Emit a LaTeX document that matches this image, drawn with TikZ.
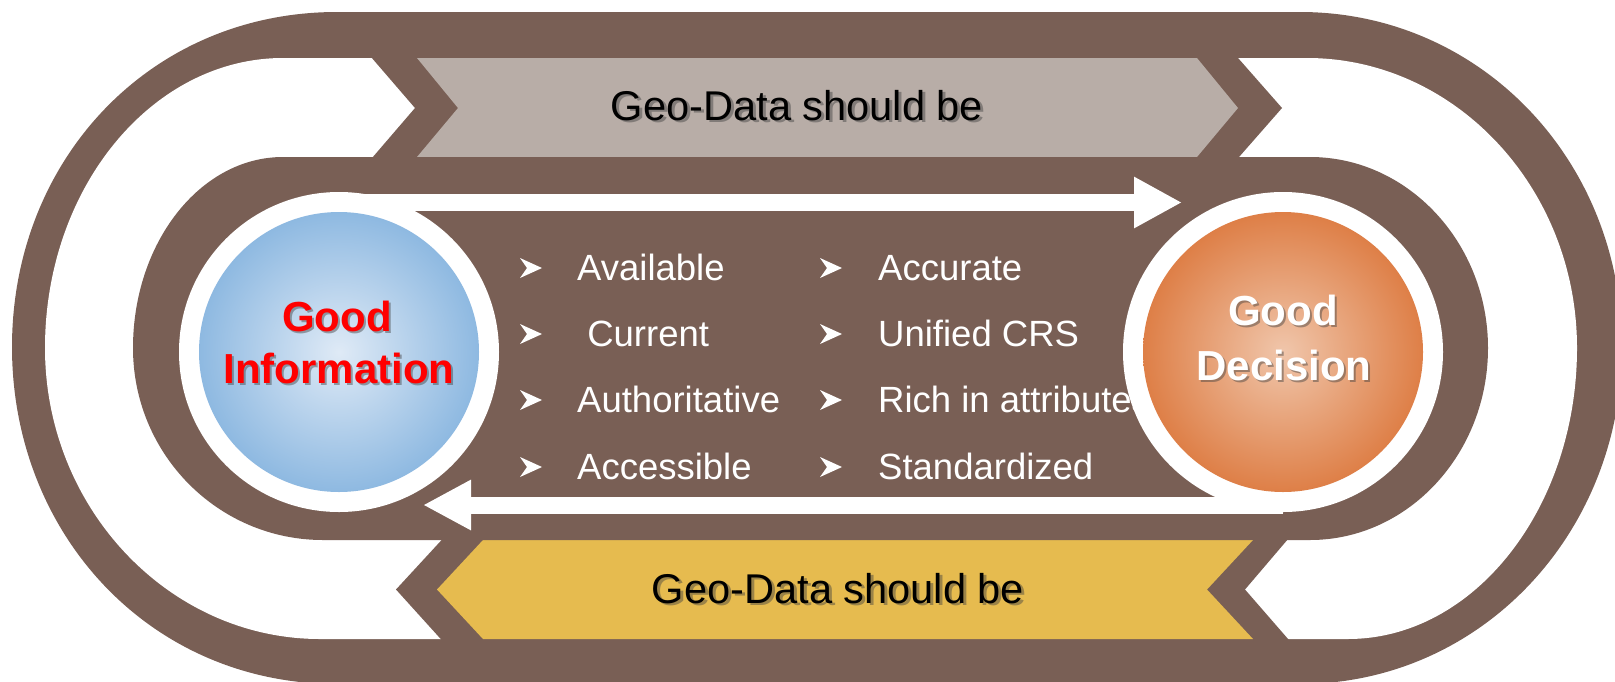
\documentclass[tikz,border=0pt]{standalone}
\usepackage{fontspec}
\setmainfont{Liberation Sans}
\usetikzlibrary{calc,positioning,arrows.meta}

\definecolor{trackbrown}{HTML}{795F55}
\definecolor{chevgray}{HTML}{B8ADA7}
\definecolor{chevgold}{HTML}{E6BB4F}
\definecolor{infoblue}{HTML}{8EB9E1}
\definecolor{infolight}{HTML}{DFEAF6}
\definecolor{decorange}{HTML}{DE7F47}
\definecolor{declight}{HTML}{F0C6AB}

\begin{document}
\begin{tikzpicture}[x=1pt,y=-1pt]
	\tikzstyle{band}=[fill=trackbrown]
	\tikzstyle{flow}=[draw=white, line width=17pt, -{Triangle[length=48pt,width=48pt]}]
	\tikzstyle{ring}=[circle, fill=white, minimum size=320pt, inner sep=0pt]
	\tikzstyle{ball}=[circle, minimum size=280pt, inner sep=0pt, shading=radial]
	\tikzstyle{bandtitle}=[anchor=base, inner sep=0pt, font=\fontsize{41.6}{50}\selectfont]
	\tikzstyle{balltext}=[anchor=base, inner sep=0pt, font=\bfseries\fontsize{42}{52}\selectfont]
	\tikzstyle{item}=[anchor=base west, inner sep=0pt, text=white, font=\fontsize{36.5}{44}\selectfont]
	\tikzstyle{txtshadow}=[text=black!75, opacity=.45]

	\useasboundingbox (0,0) rectangle (1615,681);
	\clip (0,0) rectangle (1615,681);

	% outer track
	\fill[band] (337,12) -- (1300,12) .. controls (1480,12) and (1622,160) .. (1622,347)
		.. controls (1622,534) and (1480,684) .. (1300,684) -- (337,684)
		.. controls (150,684) and (12,534) .. (12,347) .. controls (12,160) and (150,12) .. (337,12) -- cycle;
	\fill[white] (283,58) -- (1307,58) .. controls (1455,58) and (1577,188) .. (1577,348)
		.. controls (1577,508) and (1474,639) .. (1348,639) -- (320,639)
		.. controls (169,639) and (45,508) .. (45,348) .. controls (45,188) and (152,58) .. (283,58) -- cycle;

	% chevrons
	\fill[band] (365,50) -- (1231,50) -- (1282,108) -- (1232,165) -- (366,165) -- (415,108) -- cycle;
	\fill[chevgray] (417,58) -- (1197,58) -- (1238,108) -- (1197,157) -- (417,157) -- (458,108) -- cycle;
	\fill[band] (449,532) -- (1294,532) -- (1245,589.5) -- (1295,647) -- (448,647) -- (396,589.5) -- cycle;
	\fill[chevgold] (483,540) -- (1253,540) -- (1207,589.5) -- (1253,639) -- (483,639) -- (437,589.5) -- cycle;

	% inner track
	\fill[band] (283,157) -- (1310,157) .. controls (1408,157) and (1488,243) .. (1488,348)
		.. controls (1488,454) and (1408,540) .. (1310,540) -- (323,540)
		.. controls (218,540) and (133,454) .. (133,348) .. controls (133,243) and (200,157) .. (283,157) -- cycle;

	\coordinate (infoc) at (339,352);
	\coordinate (decc) at (1283,352);
	\coordinate (fwdtip) at (1182,202.5);
	\coordinate (backtip) at (423,505);
	\draw[flow] (infoc |- fwdtip) -- (fwdtip);
	\draw[flow, -{Triangle[length=48pt,width=47pt]}] (decc |- backtip) -- (backtip);

	% list
	\foreach \y/\a/\b [count=\i] in {280/Available/Accurate, 346/{\ Current}/{Unified CRS},
			412/Authoritative/{Rich in attributes}, 479/Accessible/Standardized} {
		\fill[white] (520,\y-22) -- (542,\y-12) -- (520,\y-2) -- (527,\y-12) -- cycle;
		\fill[white] (820,\y-22) -- (842,\y-12) -- (820,\y-2) -- (827,\y-12) -- cycle;
		\node (l\i) [item] at (577,\y) {\a};
		\node (r\i) [item] at (878,\y) {\b};
	}

	% circles
	\node (inforing) [ring] at (infoc) {};
	\node (decring) [ring] at (decc) {};
	\node (info) [ball, inner color=infolight, outer color=infoblue] at (infoc) {};
	\node (dec) [ball, inner color=declight, outer color=decorange] at (decc) {};

	\node (g1s) [balltext, txtshadow] at (339,333) {Good};
	\node (g1) [balltext, text=red] at (337,331) {Good};
	\node (ins) [balltext, txtshadow] at (341,385) {Information};
	\node (in) [balltext, text=red] at (339,383) {Information};
	\node (g2s) [balltext, txtshadow] at (1285,327) {Good};
	\node (g2) [balltext, text=white] at (1283,325) {Good};
	\node (des) [balltext, txtshadow] at (1286,382) {Decision};
	\node (de) [balltext, text=white] at (1284,380) {Decision};

	% band titles
	\node (gd1s) [bandtitle, txtshadow] at (800,122) {Geo-Data should be};
	\node (gd1) [bandtitle] at (797,120) {Geo-Data should be};
	\node (gd2s) [bandtitle, txtshadow] at (841,605) {Geo-Data should be};
	\node (gd2) [bandtitle] at (838,603) {Geo-Data should be};
\end{tikzpicture}
\end{document}
